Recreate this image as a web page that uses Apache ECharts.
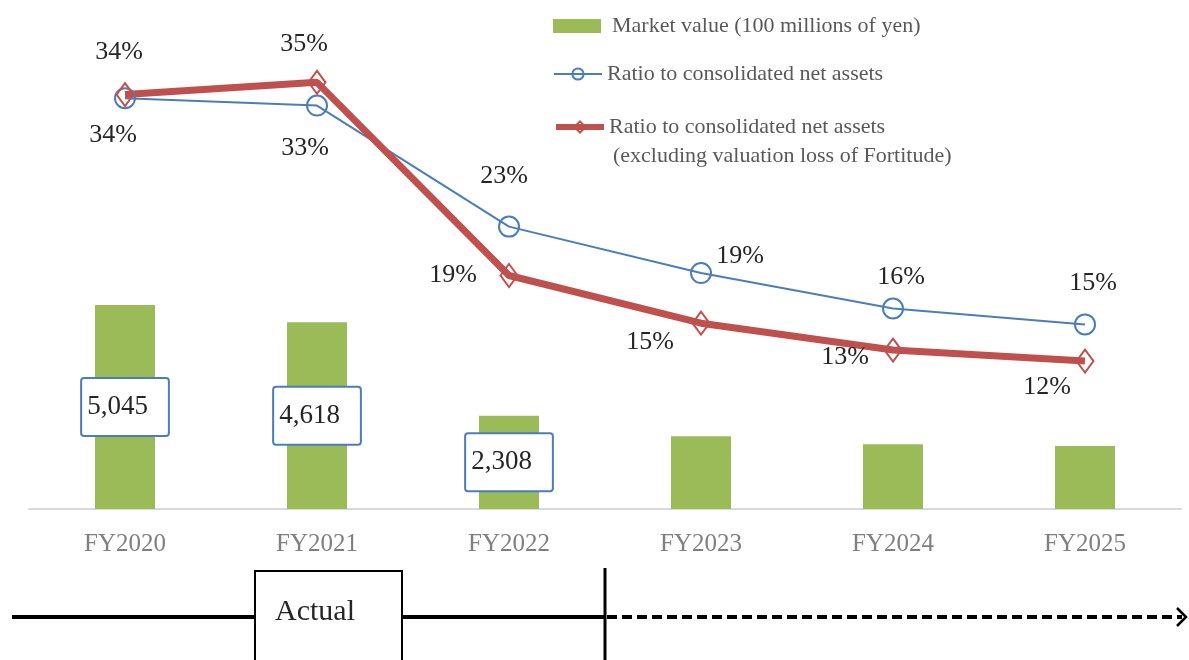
<!DOCTYPE html>
<html>
<head>
<meta charset="utf-8">
<title>Market value and ratio to consolidated net assets</title>
<script src="https://cdn.jsdelivr.net/npm/echarts@6/dist/echarts.min.js"></script>
<style>
  html, body { margin: 0; padding: 0; background: #fff; }
  #chart { width: 1189px; height: 660px; }
</style>
</head>
<body>
<div id="chart"></div>
<script>
const years = ['FY2020', 'FY2021', 'FY2022', 'FY2023', 'FY2024', 'FY2025'];
// market value (100 millions of yen); only the first three carry a label
const marketValue = [5045, 4618, 2308, 1800, 1600, 1560];
const labelledBars = 3;
// ratio to consolidated net assets (%)
const ratio = [33.6, 33.0, 23.1, 19.3, 16.4, 15.1];
// same ratio, excluding valuation loss of Fortitude (%)
const ratioEx = [33.9, 34.9, 19.1, 15.2, 13.0, 12.1];

const serif = "'Liberation Serif', 'Times New Roman', serif";
const blue = '#4a7ebb';
const red = '#c0504d';
const green = '#9bbb59';

// where each % label sits relative to its point
const ratioOffset = [[-12, 37], [-12, 43], [-5, -50], [39, -17], [8, -31], [8, -41]];
const ratioExOffset = [[-6, -42], [-13, -38], [-56, 0], [-51, 19], [-48, 7], [-38, 26]];

const nameBar = 'Market value (100 millions of yen)';
const nameRatio = 'Ratio to consolidated net assets';
const nameRatioEx = 'Ratio to consolidated net assets (excluding valuation loss of Fortitude)';

const pctLabel = {
    show: true,
    position: 'inside',
    fontFamily: serif,
    fontSize: 26,
    color: '#262626',
    formatter: p => Math.round(p.value) + '%'
};

const legendText = {
    color: '#595959',
    fontFamily: serif,
    fontSize: 22,
    lineHeight: 24
};

function legendAt(name, top, extra) {
    return Object.assign({
        data: [name],
        orient: 'vertical',
        left: 553,
        top: top,
        padding: 0,
        itemWidth: 48,
        itemHeight: 14,
        selectedMode: false,
        textStyle: legendText
    }, extra || {});
}

let chart = echarts.init(document.getElementById('chart'));

let option = {
    animation: false,
    legend: [
        legendAt(nameBar, 14, {icon: 'rect', textStyle: Object.assign({}, legendText, {padding: [0, 0, 0, 6]})}),
        legendAt(nameRatio, 62, {lineStyle: {width: 2}}),
        legendAt(nameRatioEx, 115, {formatter: () => nameRatio, lineStyle: {width: 6}})
    ],
    grid: {
        left: 29,
        right: 8,
        top: 20,
        bottom: 151
    },
    xAxis: {
        type: 'category',
        data: years,
        axisTick: {show: false},
        axisLine: {lineStyle: {color: '#d9d9d9', width: 2}},
        axisLabel: {
            color: '#7f7f7f',
            fontFamily: serif,
            fontSize: 25,
            margin: 23
        }
    },
    yAxis: [
        {type: 'value', min: 0, max: 12100, show: false},
        {type: 'value', min: 0, max: 40, show: false}
    ],
    series: [
        {
            name: nameBar,
            type: 'bar',
            yAxisIndex: 0,
            barWidth: 60,
            itemStyle: {color: green},
            label: {
                position: 'inside',
                fontFamily: serif,
                fontSize: 27,
                lineHeight: 30,
                color: '#262626',
                backgroundColor: '#fff',
                borderColor: blue,
                borderWidth: 2,
                borderRadius: 2,
                padding: [13, 20, 13, 5],
                formatter: p => p.value.toLocaleString('en-US')
            },
            data: marketValue.map((v, i) => ({value: v, label: {show: i < labelledBars}}))
        },
        {
            name: nameRatio,
            type: 'line',
            yAxisIndex: 1,
            symbol: 'circle',
            symbolSize: 20,
            itemStyle: {color: 'rgba(255,255,255,0)', borderColor: blue, borderWidth: 2},
            lineStyle: {color: blue, width: 2},
            label: pctLabel,
            data: ratio.map((v, i) => ({value: v, label: {offset: ratioOffset[i]}}))
        },
        {
            name: nameRatioEx,
            type: 'line',
            yAxisIndex: 1,
            symbol: 'diamond',
            symbolSize: [17, 23],
            itemStyle: {color: 'rgba(255,255,255,0)', borderColor: red, borderWidth: 2},
            lineStyle: {color: red, width: 7},
            label: pctLabel,
            data: ratioEx.map((v, i) => ({value: v, label: {offset: ratioExOffset[i]}}))
        }
    ],
    graphic: [
        // second line of the third legend entry
        {
            type: 'text',
            left: 613,
            top: 145,
            style: {
                text: '(excluding valuation loss of Fortitude)',
                fill: '#595959',
                font: '22px ' + serif
            }
        },
        // timeline: actual (solid) then forecast (dashed)
        {
            type: 'line',
            shape: {x1: 12, y1: 617, x2: 605, y2: 617},
            style: {stroke: '#000', lineWidth: 4}
        },
        {
            type: 'rect',
            shape: {x: 255, y: 571, width: 147, height: 100},
            style: {fill: '#fff', stroke: '#000', lineWidth: 2}
        },
        {
            type: 'text',
            x: 275,
            y: 612,
            style: {
                text: 'Actual',
                fill: '#262626',
                font: '30px ' + serif,
                verticalAlign: 'middle'
            }
        },
        {
            type: 'line',
            shape: {x1: 605, y1: 568, x2: 605, y2: 660},
            style: {stroke: '#000', lineWidth: 3}
        },
        {
            type: 'line',
            shape: {x1: 607, y1: 617, x2: 1182, y2: 617},
            style: {stroke: '#000', lineWidth: 4, lineDash: [10, 5]}
        },
        {
            type: 'polyline',
            shape: {points: [[1177, 608], [1186, 617], [1177, 626]]},
            style: {stroke: '#000', lineWidth: 2.5, fill: null}
        }
    ]
};

chart.setOption(option);
window.addEventListener('resize', function () {
    chart.resize();
});
</script>
</body>
</html>
